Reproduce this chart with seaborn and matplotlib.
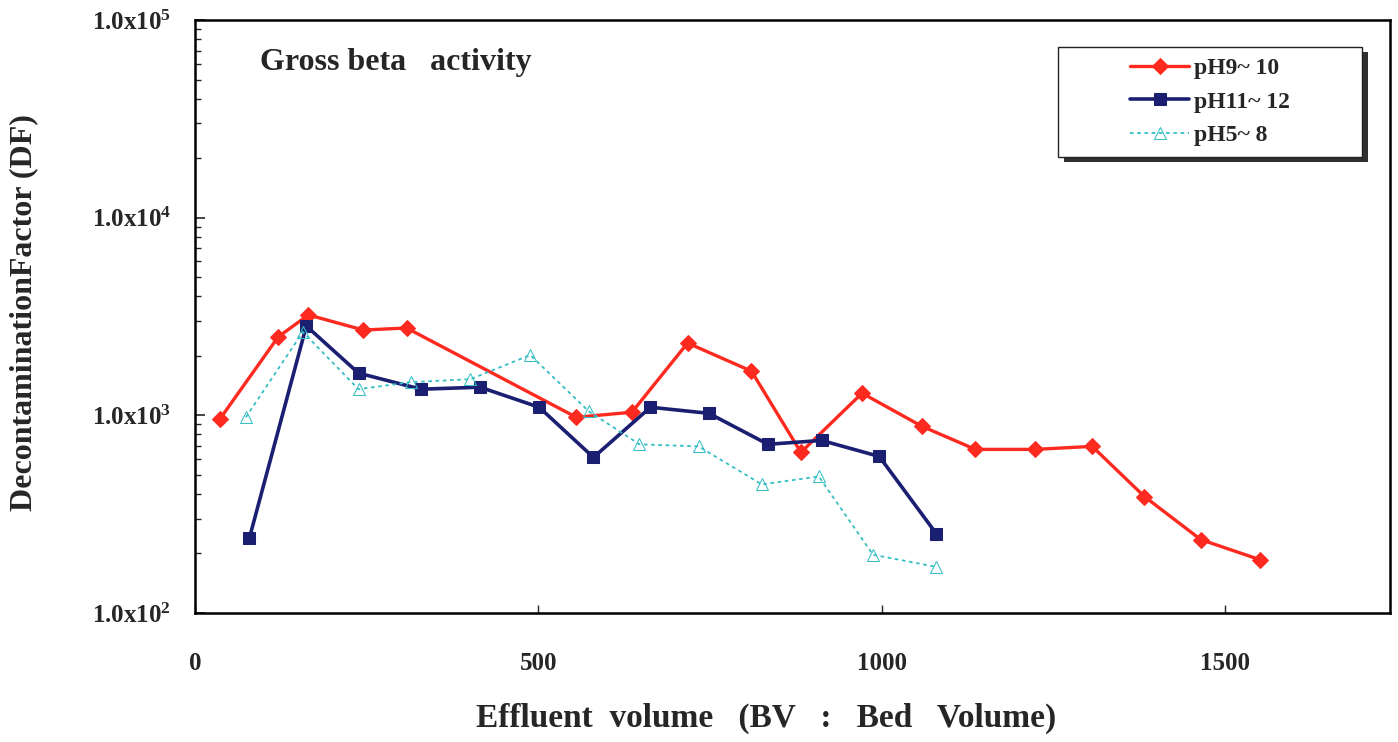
import numpy as np
import matplotlib
matplotlib.use("Agg")
import matplotlib.pyplot as plt
import seaborn as sns
from matplotlib.patches import Rectangle
from matplotlib.ticker import LogLocator, FixedLocator, FixedFormatter, NullFormatter

# ---------------------------------------------------------------------------
# Data
# ---------------------------------------------------------------------------
ph9_x = [36, 121, 165, 245, 308, 555, 636, 717, 810, 882, 971, 1058,
         1136, 1223, 1306, 1382, 1464, 1550]
ph9_y = [955, 2490, 3220, 2700, 2765, 977, 1036, 2320, 1672, 649, 1294, 880,
         672, 672, 696, 388, 235, 186]

ph11_x = [79, 162, 238, 329, 415, 501, 580, 663, 748, 834, 912, 996, 1079]
ph11_y = [238, 2830, 1634, 1355, 1387, 1098, 612, 1098, 1023, 713, 746, 619, 252]

ph5_x = [74, 157, 238, 314, 401, 488, 573, 647, 733, 825, 908, 987, 1079]
ph5_y = [977, 2640, 1355, 1471, 1523, 2018, 1048, 713, 696, 447, 490, 197, 171]

series_names = ["pH9~ 10", "pH11~ 12", "pH5~ 8"]
y_tick_values = [1e2, 1e3, 1e4, 1e5]
y_tick_labels = [r"1.0x10$^{\mathbf{2}}$", r"1.0x10$^{\mathbf{3}}$",
                 r"1.0x10$^{\mathbf{4}}$", r"1.0x10$^{\mathbf{5}}$"]
x_tick_values = [0, 500, 1000, 1500]

# ---------------------------------------------------------------------------
# Style
# ---------------------------------------------------------------------------
sns.set_style("white")
plt.rcParams["font.family"] = ["Liberation Serif", "DejaVu Serif"]
plt.rcParams["font.weight"] = "bold"
plt.rcParams["mathtext.fontset"] = "custom"
plt.rcParams["mathtext.rm"] = "Liberation Serif:bold"
plt.rcParams["mathtext.bf"] = "Liberation Serif:bold"
plt.rcParams["mathtext.it"] = "Liberation Serif:bold"

fig = plt.figure(figsize=(13.98, 7.42), dpi=100)
ax = fig.add_axes([0.1395, 0.174, 0.855, 0.799])

sns.lineplot(x=ph9_x, y=ph9_y, ax=ax, color="#ff2a1f", marker="D",
             markersize=8, markeredgecolor="#ff2a1f", linewidth=2.4,
             label=series_names[0])
sns.lineplot(x=ph11_x, y=ph11_y, ax=ax, color="#1b1f72", marker="s",
             markersize=9, markeredgecolor="#1b1f72", linewidth=2.6,
             label=series_names[1])
sns.lineplot(x=ph5_x, y=ph5_y, ax=ax, color="#35bfc4", marker="^",
             markersize=8, markerfacecolor="none", markeredgecolor="#35bfc4",
             linewidth=1.3, linestyle=(0, (2, 2)), label=series_names[2])

ax.set_yscale("log")
ax.set_ylim(1e2, 1e5)
ax.set_xlim(0, 1740)

ax.yaxis.set_major_locator(FixedLocator(y_tick_values))
ax.yaxis.set_major_formatter(FixedFormatter(y_tick_labels))
ax.yaxis.set_minor_locator(LogLocator(base=10, subs=np.arange(2, 10)))
ax.yaxis.set_minor_formatter(NullFormatter())
ax.xaxis.set_major_locator(FixedLocator(x_tick_values))

ax.tick_params(axis="y", which="major", direction="in", length=7, width=1.2,
               labelsize=18, pad=17, left=True)
ax.tick_params(axis="y", which="minor", direction="in", length=4, width=1.0,
               left=True)
ax.tick_params(axis="x", which="major", direction="in", length=6, width=1.0,
               labelsize=18, pad=28, bottom=True)

for spine in ax.spines.values():
    spine.set_color("black")
    spine.set_linewidth(1.8)

ax.set_xlabel("Effluent  volume   (BV   :   Bed   Volume)", fontsize=24,
              fontweight="bold")
ax.xaxis.set_label_coords(0.478, -0.152)
ax.set_ylabel("DecontaminationFactor (DF)", fontsize=23, fontweight="bold")
ax.yaxis.set_label_coords(-0.131, 0.507)
ax.text(0.054, 0.928, "Gross beta   activity", transform=ax.transAxes,
        fontsize=23, fontweight="bold", va="center", ha="left")

# legend: frame drawn as a box with a drop shadow, entries centred inside
box_x0, box_y0, box_w, box_h = 0.722, 0.769, 0.2546, 0.1855
ax.add_patch(Rectangle((box_x0 + 0.005, box_y0 - 0.009), box_w, box_h,
                       transform=ax.transAxes, facecolor="#303030",
                       edgecolor="none", zorder=4))
ax.add_patch(Rectangle((box_x0, box_y0), box_w, box_h,
                       transform=ax.transAxes, facecolor="white",
                       edgecolor="#222222", linewidth=1.0, zorder=5))
leg = ax.legend(loc="center",
                bbox_to_anchor=(box_x0 + box_w / 2, box_y0 + box_h / 2),
                frameon=False, fontsize=17, handlelength=2.5,
                handletextpad=0.2, labelspacing=0.5, borderpad=0)
leg.set_zorder(6)
for t in leg.get_texts():
    t.set_fontweight("bold")

fig.savefig("out.png", dpi=100)
